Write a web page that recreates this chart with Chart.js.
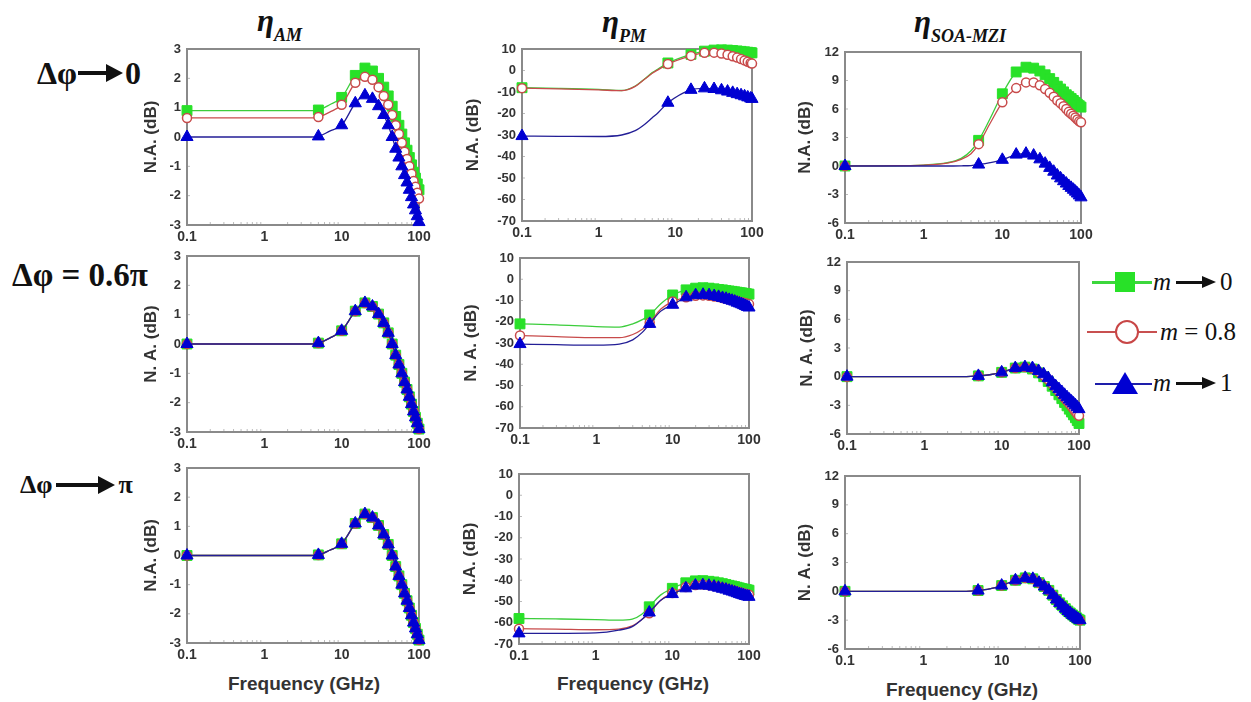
<!DOCTYPE html>
<html>
<head>
<meta charset="utf-8">
<script src="https://cdn.jsdelivr.net/npm/chart.js@4.4.0/dist/chart.umd.min.js"></script>
<style>
  body { margin:0; background:#fff; width:1251px; height:702px; position:relative; overflow:hidden; }
  .abs { position:absolute; white-space:nowrap; }
  canvas { position:absolute; }
  .ctitle { font: bold italic 31px "Liberation Serif", serif; line-height:30px; color:#111; }
  .ctitle sub { font-size:18px; vertical-align:-10px; }
  .rlabel { font: bold 32px "Liberation Serif", serif; line-height:30px; color:#111; }
  .arrow { display:inline-block; position:relative; height:4px; background:#111; }
  .arrow::after { content:""; position:absolute; left:calc(100% - 2px); top:-7px; border-left:17px solid #111; border-top:9px solid transparent; border-bottom:9px solid transparent; }
  .arrow.sm { height:3px; }
  .arrow.sm::after { top:-5px; border-left:14px solid #111; border-top:6.5px solid transparent; border-bottom:6.5px solid transparent; }
  .xlab { font: bold 19px "Liberation Sans", Arial, sans-serif; color:#333; transform:translate(-50%,-50%); }
  .leg { font: 25px "Liberation Serif", serif; color:#111; line-height:24px; transform:translateY(-50%); }
</style>
</head>
<body>

<div class="abs ctitle" style="left:257px;top:6px">η<sub>AM</sub></div>
<div class="abs ctitle" style="left:602px;top:7px">η<sub>PM</sub></div>
<div class="abs ctitle" style="left:914px;top:7px">η<sub>SOA-MZI</sub></div>

<div class="abs rlabel" style="left:37px;top:58px">Δφ<span class="arrow" style="width:30px;vertical-align:9px;margin:0 17px 0 1px"></span>0</div>
<div class="abs rlabel" style="left:12px;top:260px;font-size:33px">Δφ = 0.6π</div>
<div class="abs rlabel" style="left:20px;top:470px;font-size:26px">Δφ<span class="arrow" style="width:44px;vertical-align:6px;margin:0 19px 0 3px"></span>π</div>

<div class="abs xlab" style="left:304px;top:684px">Frequency (GHz)</div>
<div class="abs xlab" style="left:633px;top:684px">Frequency (GHz)</div>
<div class="abs xlab" style="left:962px;top:690px">Frequency (GHz)</div>

<!-- legend -->
<div class="abs" style="left:1092px;top:281px;width:60px;height:3px;background:rgb(60,215,60)"></div>
<div class="abs" style="left:1115px;top:272px;width:20px;height:20px;background:rgb(40,225,40)"></div>
<div class="abs leg" style="left:1153px;top:282px"><i>m</i><span class="arrow sm" style="width:28px;vertical-align:6px;margin:0 16px 0 5px"></span>0</div>

<div class="abs" style="left:1087px;top:331px;width:70px;height:2px;background:rgb(200,80,80)"></div>
<div class="abs" style="left:1115px;top:320px;width:20px;height:20px;border:2px solid rgb(200,70,70);border-radius:50%;background:#fff"></div>
<div class="abs leg" style="left:1160px;top:332px"><i>m</i> = 0.8</div>

<div class="abs" style="left:1095px;top:383px;width:57px;height:2px;background:rgb(30,30,170)"></div>
<div class="abs" style="left:1112px;top:372px;width:0;height:0;border-left:13px solid transparent;border-right:13px solid transparent;border-bottom:22px solid rgb(0,0,210)"></div>
<div class="abs leg" style="left:1153px;top:383px"><i>m</i><span class="arrow sm" style="width:28px;vertical-align:6px;margin:0 16px 0 5px"></span>1</div>

<script>
// frequency grid (GHz); points in lineOnly carry the curve but no marker
const freq = [0.1, 0.3, 1, 2, 3, 4, 5, 7, 10, 15, 20, 25, 30, 35, 40, 45, 50, 55, 60, 65, 70, 75, 80, 85, 90, 95, 100];
const freqPmTop = [0.1, 0.3, 1, 2, 3, 4, 5, 6, 8, 16, 24, 32, 40, 48, 56, 64, 72, 80, 88, 96, 100];
const lineOnly = [0.3, 1, 2, 3, 4, 6, 7];
const xTicks = [0.1, 1, 10, 100];

// eta_AM
const amGreen0 = [0.9, 0.9, 0.9, 0.9, 0.9, 0.9, 0.92, 1.1, 1.35, 2.1, 2.35, 2.25, 2.0, 1.7, 1.4, 1.05, 0.7, 0.4, 0.1, -0.2, -0.45, -0.7, -0.95, -1.2, -1.4, -1.6, -1.8];
const amRed0 = [0.65, 0.65, 0.65, 0.65, 0.65, 0.65, 0.68, 0.85, 1.1, 1.85, 2.05, 1.95, 1.7, 1.4, 1.1, 0.75, 0.4, 0.1, -0.2, -0.5, -0.75, -1.0, -1.25, -1.5, -1.7, -1.9, -2.1];
const amBlue0 = [0, 0, 0, 0, 0, 0, 0.02, 0.2, 0.4, 1.15, 1.42, 1.3, 1.05, 0.75, 0.4, 0.0, -0.4, -0.7, -1.0, -1.3, -1.55, -1.8, -2.05, -2.3, -2.5, -2.7, -2.9];
const amMid = [0, 0, 0, 0, 0, 0, 0.03, 0.2, 0.45, 1.12, 1.4, 1.28, 1.02, 0.72, 0.38, 0.0, -0.38, -0.7, -1.0, -1.3, -1.55, -1.8, -2.05, -2.3, -2.5, -2.7, -2.9];
const amLow = [0, 0, 0, 0, 0, 0, 0.02, 0.18, 0.4, 1.1, 1.42, 1.3, 1.03, 0.72, 0.38, 0.0, -0.38, -0.7, -1.0, -1.3, -1.55, -1.8, -2.05, -2.3, -2.5, -2.7, -2.9];

// eta_PM
const pmGreen0 = [-8, -8.3, -8.8, -9.3, -7.2, -3.8, -1.0, 0.8, 3.5, 7.5, 9.0, 9.5, 9.6, 9.5, 9.3, 9.1, 8.9, 8.7, 8.5, 8.3, 8.2];
const pmRed0 = [-8.2, -8.5, -9.0, -9.4, -7.4, -4.0, -1.3, 0.4, 3.0, 6.8, 8.2, 8.3, 7.9, 7.3, 6.6, 6.0, 5.3, 4.7, 4.1, 3.5, 3.2];
const pmBlue0 = [-30.5, -30.6, -30.7, -30.0, -28.0, -25.0, -22.0, -19.5, -15.0, -9.0, -8.3, -8.6, -9.2, -9.8, -10.4, -11.0, -11.5, -12.0, -12.5, -13.0, -13.2];
const pmGreen1 = [-21, -21.5, -22.3, -22.5, -21, -19, -16.8, -11.5, -7.4, -5, -4.2, -4, -4.2, -4.5, -4.8, -5.0, -5.3, -5.5, -5.7, -5.9, -6.1, -6.3, -6.4, -6.6, -6.7, -6.9, -7];
const pmRed1 = [-26.5, -27, -27.5, -27.5, -26, -23.5, -20.5, -14, -10.5, -8.5, -7.8, -7.6, -7.8, -8.1, -8.4, -8.8, -9.1, -9.4, -9.7, -10, -10.3, -10.6, -10.8, -11.1, -11.3, -11.5, -11.7];
const pmBlue1 = [-30.5, -30.8, -31, -30.5, -28.5, -25, -21, -15, -12, -8.5, -7.5, -7.3, -7.5, -7.9, -8.3, -8.8, -9.2, -9.7, -10.1, -10.5, -11, -11.4, -11.8, -12.2, -12.6, -13, -13.3];
const pmGreen2 = [-58, -58.2, -58.5, -58.8, -58.3, -56, -52.5, -47, -43.8, -41.2, -40.3, -40.2, -40.5, -40.8, -41.2, -41.6, -42, -42.4, -42.7, -43, -43.3, -43.6, -43.9, -44.1, -44.3, -44.5, -44.7];
const pmRed2 = [-62.8, -63, -63.3, -63, -61.5, -58.5, -55.5, -49.5, -46, -43.2, -42.2, -42, -42.3, -42.7, -43.1, -43.5, -43.9, -44.3, -44.7, -45, -45.3, -45.6, -45.9, -46.2, -46.4, -46.6, -46.8];
const pmBlue2 = [-65, -65, -64.8, -63.5, -61.8, -58.5, -55.2, -49.5, -46.5, -43.8, -42.5, -42.3, -42.6, -43, -43.5, -44, -44.4, -44.9, -45.3, -45.7, -46.1, -46.5, -46.8, -47.1, -47.4, -47.6, -47.8];

// eta_SOA-MZI
const soaGreen0 = [0, 0.02, 0.1, 0.35, 0.8, 1.6, 2.7, 5.0, 7.6, 9.9, 10.4, 10.3, 10.0, 9.6, 9.2, 8.8, 8.4, 8.1, 7.8, 7.5, 7.3, 7.1, 6.9, 6.7, 6.5, 6.35, 6.2];
const soaRed0 = [0, 0.02, 0.1, 0.3, 0.7, 1.3, 2.3, 4.5, 6.7, 8.2, 8.8, 8.8, 8.5, 8.1, 7.7, 7.3, 6.9, 6.6, 6.3, 6.0, 5.7, 5.5, 5.3, 5.1, 4.9, 4.7, 4.6];
const soaBlue0 = [0, 0, 0, 0, 0.02, 0.05, 0.15, 0.35, 0.65, 1.2, 1.3, 1.1, 0.7, 0.25, -0.2, -0.6, -1.0, -1.3, -1.6, -1.85, -2.1, -2.3, -2.5, -2.7, -2.9, -3.1, -3.3];
const soaGreen1 = [0, 0, 0, 0, 0, 0.02, 0.08, 0.2, 0.45, 0.9, 1.0, 0.8, 0.4, 0.0, -0.5, -1.0, -1.45, -1.9, -2.3, -2.7, -3.05, -3.4, -3.7, -4.0, -4.3, -4.6, -4.9];
const soaRed1 = [0, 0, 0, 0, 0, 0.02, 0.08, 0.2, 0.45, 0.9, 1.0, 0.85, 0.5, 0.1, -0.3, -0.75, -1.15, -1.55, -1.9, -2.25, -2.55, -2.85, -3.1, -3.4, -3.65, -3.9, -4.1];
const soaBlue1 = [0, 0, 0, 0, 0, 0.02, 0.08, 0.2, 0.45, 0.9, 1.0, 0.9, 0.6, 0.25, -0.15, -0.6, -1.0, -1.3, -1.6, -1.9, -2.15, -2.4, -2.6, -2.8, -3.0, -3.2, -3.4];
const soaLow = [0, 0, 0, 0, 0, 0.02, 0.08, 0.25, 0.6, 1.15, 1.4, 1.3, 0.9, 0.5, 0.1, -0.4, -0.85, -1.2, -1.5, -1.8, -2.05, -2.25, -2.45, -2.6, -2.75, -2.9, -3.0];

// y-axis ranges [min, max, step]
const yAm = [-3, 3, 1];
const yPm = [-70, 10, 10];
const ySoa = [-6, 12, 3];

const minorX = [0.2, 0.3, 0.4, 0.5, 0.6, 0.7, 0.8, 0.9, 2, 3, 4, 5, 6, 7, 8, 9, 20, 30, 40, 50, 60, 70, 80, 90];

// box = plot area [left, top, right, bottom] in page pixels
const panels = [
  { box: [187, 49, 419, 225], yw: 50, y: yAm, t: 'N.A. (dB)', x: freq, from: 5, g: amGreen0, r: amRed0, b: amBlue0 },
  { box: [522, 49, 752, 221], yw: 63, y: yPm, t: 'N.A. (dB)', x: freqPmTop, from: 8, g: pmGreen0, r: pmRed0, b: pmBlue0 },
  { box: [845, 52, 1081, 223], yw: 54, y: ySoa, t: 'N.A. (dB)', x: freq, from: 5, g: soaGreen0, r: soaRed0, b: soaBlue0 },
  { box: [187, 256, 419, 432], yw: 50, y: yAm, t: 'N. A. (dB)', x: freq, from: 5, g: amMid, r: amMid, b: amMid },
  { box: [520, 258, 749, 428], yw: 63, y: yPm, t: 'N. A. (dB)', x: freq, from: 5, g: pmGreen1, r: pmRed1, b: pmBlue1 },
  { box: [847, 262, 1079, 434], yw: 54, y: ySoa, t: 'N. A. (dB)', x: freq, from: 5, g: soaGreen1, r: soaRed1, b: soaBlue1 },
  { box: [187, 468, 419, 643], yw: 50, y: yAm, t: 'N.A. (dB)', x: freq, from: 5, g: amLow, r: amLow, b: amLow },
  { box: [519, 474, 749, 644], yw: 63, y: yPm, t: 'N.A. (dB)', x: freq, from: 5, g: pmGreen2, r: pmRed2, b: pmBlue2 },
  { box: [845, 476, 1080, 649], yw: 54, y: ySoa, t: 'N. A. (dB)', x: freq, from: 5, g: soaLow, r: soaLow, b: soaLow }
];

const padT = 10, padR = 22, xH = 26;

// grey frame + small inward ticks
const frame = {
  id: 'frame',
  beforeDatasetsDraw(chart) {
    const { ctx, chartArea: a, scales } = chart;
    ctx.save();
    ctx.strokeStyle = '#bbb';
    ctx.lineWidth = 1;
    ctx.beginPath();
    minorX.forEach(v => {
      const px = scales.x.getPixelForValue(v);
      ctx.moveTo(px, a.bottom); ctx.lineTo(px, a.bottom - 3);
    });
    scales.y.ticks.forEach(t => {
      const py = scales.y.getPixelForValue(t.value);
      ctx.moveTo(a.left, py); ctx.lineTo(a.left + 3, py);
    });
    ctx.stroke();
    ctx.strokeStyle = '#8a8a8a';
    ctx.lineWidth = 2;
    ctx.strokeRect(a.left, a.top, a.right - a.left, a.bottom - a.top);
    ctx.restore();
  }
};

function series(xs, ys, from, label, color, fill, style, radius, order, lw) {
  return {
    label: label,
    data: xs.map((f, i) => ({ x: f, y: ys[i] })),
    borderColor: color,
    borderWidth: lw,
    pointStyle: style,
    pointBackgroundColor: fill,
    pointBorderColor: style === 'circle' ? color : fill,
    pointBorderWidth: style === 'circle' ? 1.5 : 1,
    pointRadius: xs.map(f => (lineOnly.includes(f) || (f !== 0.1 && f < from)) ? 0 : radius),
    cubicInterpolationMode: 'monotone',
    clip: false,
    order: order
  };
}

panels.forEach(p => {
  const [L, T, R, B] = p.box;
  const canvas = document.createElement('canvas');
  canvas.width = p.yw + (R - L) + padR;
  canvas.height = padT + (B - T) + xH;
  canvas.style.left = (L - p.yw) + 'px';
  canvas.style.top = (T - padT) + 'px';
  document.body.appendChild(canvas);

  new Chart(canvas.getContext('2d'), {
    type: 'line',
    data: {
      datasets: [
        series(p.x, p.g, p.from, 'm → 0', 'rgb(60,205,60)', 'rgb(40,225,40)', 'rect', 7, 3, 1.3),
        series(p.x, p.r, p.from, 'm = 0.8', 'rgb(200,75,75)', '#ffffff', 'circle', 4.5, 2, 1.3),
        series(p.x, p.b, p.from, 'm → 1', 'rgb(35,30,150)', 'rgb(0,0,210)', 'triangle', 7, 1, 1.3)
      ]
    },
    options: {
      responsive: false,
      animation: false,
      devicePixelRatio: 1,
      layout: { padding: { left: 0, top: padT, right: padR, bottom: 0 } },
      plugins: { legend: { display: false }, tooltip: { enabled: false } },
      scales: {
        x: {
          type: 'logarithmic',
          min: 0.1,
          max: 100,
          grid: { display: false, drawTicks: false },
          border: { display: false },
          afterBuildTicks: s => { s.ticks = xTicks.map(v => ({ value: v })); },
          afterFit: s => { s.height = xH; s.paddingLeft = 0; s.paddingRight = 0; },
          ticks: {
            autoSkip: false,
            maxRotation: 0,
            padding: 4,
            color: '#333',
            font: { family: 'Liberation Sans', size: 14, weight: 'bold' },
            callback: v => String(v)
          }
        },
        y: {
          min: p.y[0],
          max: p.y[1],
          grid: { display: false, drawTicks: false },
          border: { display: false },
          afterFit: s => { s.width = p.yw; s.paddingTop = 0; s.paddingBottom = 0; },
          ticks: {
            stepSize: p.y[2],
            padding: 6,
            color: '#333',
            font: { family: 'Liberation Sans', size: 13, weight: 'bold' }
          },
          title: {
            display: true,
            text: p.t,
            color: '#333',
            padding: { top: 4, bottom: 4 },
            font: { family: 'Liberation Sans', size: 17, weight: 'bold' }
          }
        }
      }
    },
    plugins: [frame]
  });
});
</script>
</body>
</html>
